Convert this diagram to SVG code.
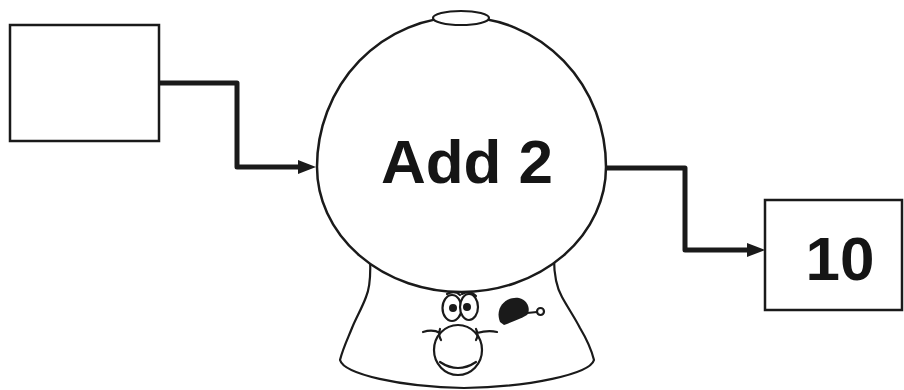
<svg xmlns="http://www.w3.org/2000/svg" width="904" height="390" viewBox="0 0 904 390">
<style>
.box{fill:#fff;stroke:#1a1a1a;stroke-width:2.5}
.wire{fill:none;stroke:#1a1a1a;stroke-width:5;stroke-linejoin:round}
.line{fill:none;stroke:#1a1a1a;stroke-width:2.2;stroke-linecap:round;stroke-linejoin:round}
.lbl{font-family:"Liberation Sans",Arial,sans-serif;font-weight:bold;font-size:62px;fill:#151515;text-anchor:middle}
</style>
<defs>
<marker id="arrow" viewBox="0 0 18 14" refX="2" refY="7" markerWidth="18" markerHeight="14" markerUnits="userSpaceOnUse" orient="auto">
<path d="M0,0 L18,7 L0,14 Z" fill="#1a1a1a"/>
</marker>
</defs>
<rect width="904" height="390" fill="#fff"/>
<g id="connectors">
<path class="wire" d="M159,83 H237 V167 H300" marker-end="url(#arrow)"/>
<path class="wire" d="M606,168 H685 V250 H749" marker-end="url(#arrow)"/>
</g>
<g id="input-box">
<rect class="box" x="10" y="25" width="149" height="116"/>
</g>
<g id="output-box">
<rect class="box" x="765" y="200" width="137" height="110"/>
<text class="lbl" x="840" y="280">10</text>
</g>
<g id="machine">
<path class="line" style="fill:#fff" d="M370,258 C371,278 369,290 366,297 C362,308 356,318 352,328 C348,338 343,348 340,360 C344,374 400,387 464,388 C530,387 590,374 594,360 C591,348 586,338 580,328 C575,318 568,308 562,297 C558,290 554,278 554,258"/>
<path class="line" style="fill:#fff;stroke-width:2.5" d="M317,167 A144.5,150 0 0 1 606,167 A144.5,125 0 0 1 317,167 Z"/>
<ellipse class="line" style="fill:#fff" cx="461" cy="18" rx="28" ry="7"/>
<text class="lbl" x="467" y="183">Add 2</text>
<ellipse class="line" style="fill:#fff" cx="458" cy="350" rx="24" ry="25"/>
<path class="line" d="M440,362 Q458,374 476,362"/>
<ellipse class="line" style="fill:#fff" cx="452" cy="308" rx="9.5" ry="13"/>
<ellipse class="line" style="fill:#fff" cx="469" cy="307" rx="9" ry="13"/>
<circle cx="453" cy="308" r="4" fill="#1a1a1a"/>
<circle cx="467" cy="307" r="4" fill="#1a1a1a"/>
<path class="line" d="M447,294 Q455,290 460,295 M462,294 Q470,290 476,296"/>
<path class="line" d="M423,332 Q433,329 440,333 M440,329 Q438,335 441,340"/>
<path class="line" d="M476,329 Q479,335 476,340 M477,333 Q488,330 497,332"/>
<path d="M500,322 C494,306 508,296 519,298 C528,300 531,310 527,315 C520,319 512,322 504,325 Z" fill="#1a1a1a"/>
<path class="line" d="M527,313 L537,312"/>
<circle class="line" cx="540.5" cy="311.5" r="3.5"/>
</g>
</svg>
